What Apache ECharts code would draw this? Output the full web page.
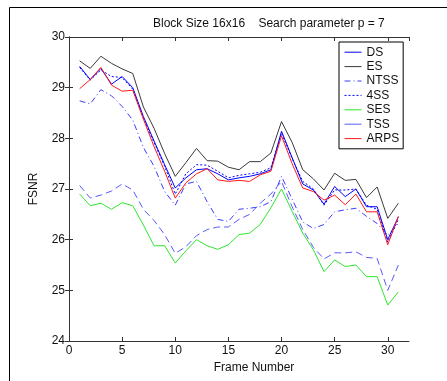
<!DOCTYPE html>
<html>
<head>
<meta charset="utf-8">
<script src="https://cdn.jsdelivr.net/npm/echarts@6/dist/echarts.min.js"></script>
<style>
  html, body { margin: 0; padding: 0; background: #fff; }
  #main { width: 447px; height: 381px; }
</style>
</head>
<body>
<div id="main"></div>
<script>
  // frame numbers
  var frames = [1, 2, 3, 4, 5, 6, 7, 8, 9, 10, 11, 12, 13, 14, 15, 16, 17, 18, 19, 20, 21, 22, 23, 24, 25, 26, 27, 28, 29, 30, 31];
  var xTicks = [0, 5, 10, 15, 20, 25, 30];
  var yTicks = [24, 25, 26, 27, 28, 29, 30];

  // PSNR per frame
  var dsData = [29.42, 29.16, 29.38, 29.07, 29.22, 29.0, 28.43, 27.95, 27.48, 27.02, 27.22, 27.38, 27.4, 27.3, 27.18, 27.22, 27.25, 27.3, 27.38, 28.14, 27.62, 27.1, 26.98, 26.7, 27.05, 26.85, 27.0, 26.65, 26.65, 26.0, 26.45];
  var esData = [29.53, 29.38, 29.62, 29.48, 29.37, 29.28, 28.62, 28.2, 27.7, 27.25, 27.52, 27.8, 27.56, 27.55, 27.43, 27.38, 27.54, 27.54, 27.71, 28.33, 27.92, 27.38, 27.2, 26.98, 27.31, 27.17, 27.19, 26.83, 27.04, 26.42, 26.72];
  var ntssData = [28.74, 28.68, 28.96, 28.84, 28.63, 28.36, 27.82, 27.45, 26.95, 26.68, 27.1, 27.15, 26.75, 26.4, 26.36, 26.6, 26.62, 26.65, 26.75, 27.25, 26.8, 26.35, 26.22, 26.3, 26.55, 26.59, 26.62, 26.46, 26.32, 26.09, 26.32];
  var fssData = [29.4, 29.15, 29.35, 29.22, 29.2, 28.97, 28.4, 27.92, 27.45, 26.9, 27.3, 27.48, 27.47, 27.35, 27.22, 27.27, 27.3, 27.33, 27.42, 28.1, 27.6, 27.15, 27.0, 26.68, 26.98, 26.98, 27.0, 26.68, 26.6, 25.95, 26.4];
  var sesData = [26.9, 26.67, 26.72, 26.6, 26.73, 26.67, 26.29, 25.88, 25.88, 25.54, 25.78, 26.0, 25.88, 25.81, 25.9, 26.1, 26.13, 26.3, 26.63, 27.0, 26.56, 26.13, 25.8, 25.37, 25.6, 25.47, 25.5, 25.27, 25.27, 24.71, 24.97];
  var tssData = [27.07, 26.82, 26.88, 26.96, 27.1, 26.98, 26.6, 26.38, 26.1, 25.73, 25.86, 26.08, 26.2, 26.25, 26.25, 26.4, 26.5, 26.72, 26.9, 27.15, 26.65, 26.2, 25.85, 25.62, 25.74, 25.74, 25.76, 25.65, 25.63, 25.0, 25.5];
  var arpsData = [28.98, 29.16, 29.4, 29.05, 28.93, 28.95, 28.38, 27.84, 27.35, 26.82, 27.12, 27.3, 27.4, 27.18, 27.15, 27.17, 27.15, 27.28, 27.35, 28.05, 27.5, 27.02, 26.95, 26.78, 26.88, 26.69, 26.9, 26.55, 26.55, 25.9, 26.46];

  function pairs(vals) {
    return frames.map(function (f, i) { return [f, vals[i]]; });
  }

  var font = 'Liberation Sans';
  var chart = echarts.init(document.getElementById('main'), null, { renderer: 'canvas' });

  function line(name, vals, color, type) {
    return {
      name: name,
      type: 'line',
      symbol: 'none',
      animation: false,
      data: pairs(vals),
      itemStyle: { color: color },
      lineStyle: { color: color, width: 1, type: type || 'solid' }
    };
  }

  var option = {
    backgroundColor: '#fff',
    animation: false,
    title: {
      text: 'Block Size 16x16    Search parameter p = 7',
      left: 153,
      top: 18,
      padding: 0,
      textStyle: { fontFamily: font, fontSize: 12, fontWeight: 'normal', color: '#111' }
    },
    // 图例 (line only, no marker)
    legend: {
      orient: 'vertical',
      left: 339,
      top: 42,
      padding: [3, 4, 3, 5],
      itemWidth: 17,
      itemHeight: 10,
      itemGap: 0,
      borderColor: '#000',
      borderWidth: 1,
      backgroundColor: '#fff',
      itemStyle: { opacity: 0 },
      lineStyle: { width: 1 },
      textStyle: { fontFamily: font, fontSize: 12, color: '#111', lineHeight: 14.4 },
      data: [
        { name: 'DS' },
        { name: 'ES' },
        { name: 'NTSS' },
        { name: '4SS' },
        { name: 'SES' },
        { name: 'TSS', lineStyle: { type: 'solid', width: 1 } },
        { name: 'ARPS' }
      ]
    },
    grid: { left: 69, right: 38, top: 37, bottom: 40 },
    xAxis: [{
      type: 'value',
      min: 0,
      max: 32,
      interval: 5,
      name: 'Frame Number',
      nameLocation: 'middle',
      nameGap: 17,
      nameTextStyle: { fontFamily: font, fontSize: 12, color: '#111', padding: [0, 0, 0, 30] },
      axisLine: { lineStyle: { color: '#333' } },
      axisTick: { inside: true, length: 4, lineStyle: { color: '#333' } },
      axisLabel: { fontFamily: font, fontSize: 12, color: '#111', margin: 4, showMaxLabel: false },
      splitLine: { show: false }
    }, {
      type: 'value',
      position: 'top',
      min: 0,
      max: 32,
      interval: 5,
      axisLine: { show: true, lineStyle: { color: '#333' } },
      axisTick: { inside: true, length: 4, lineStyle: { color: '#333' } },
      axisLabel: { show: false },
      splitLine: { show: false }
    }],
    yAxis: [{
      type: 'value',
      min: 24,
      max: 30,
      interval: 1,
      name: 'FSNR',
      nameLocation: 'middle',
      nameGap: 29,
      nameTextStyle: { fontFamily: font, fontSize: 12, color: '#111' },
      axisLine: { show: true, lineStyle: { color: '#333' } },
      axisTick: { show: true, inside: true, length: 4, lineStyle: { color: '#333' } },
      axisLabel: { fontFamily: font, fontSize: 12, color: '#111', margin: 4 },
      splitLine: { show: false }
    }, {
      type: 'value',
      position: 'right',
      min: 24,
      max: 30,
      interval: 1,
      axisLine: { show: true, lineStyle: { color: '#333' } },
      axisTick: { show: true, inside: true, length: 4, lineStyle: { color: '#333' } },
      axisLabel: { show: false },
      splitLine: { show: false }
    }],
    // outer frame (top and left edges only)
    graphic: [
      { type: 'line', shape: { x1: 9.5, y1: 7.5, x2: 447, y2: 7.5 }, style: { stroke: '#000', lineWidth: 1 } },
      { type: 'line', shape: { x1: 9.5, y1: 7.5, x2: 9.5, y2: 381 }, style: { stroke: '#000', lineWidth: 1 } }
    ],
    series: [
      line('DS', dsData, '#0000ff'),
      line('ES', esData, '#3a3a3a'),
      line('NTSS', ntssData, '#3c3cff', [6, 3, 1, 3]),
      line('4SS', fssData, '#0000ff', [2, 2]),
      line('SES', sesData, '#2ee62e'),
      line('TSS', tssData, '#5a5aff', [7, 4]),
      line('ARPS', arpsData, '#ff1a1a')
    ]
  };

  chart.setOption(option);
</script>
</body>
</html>
